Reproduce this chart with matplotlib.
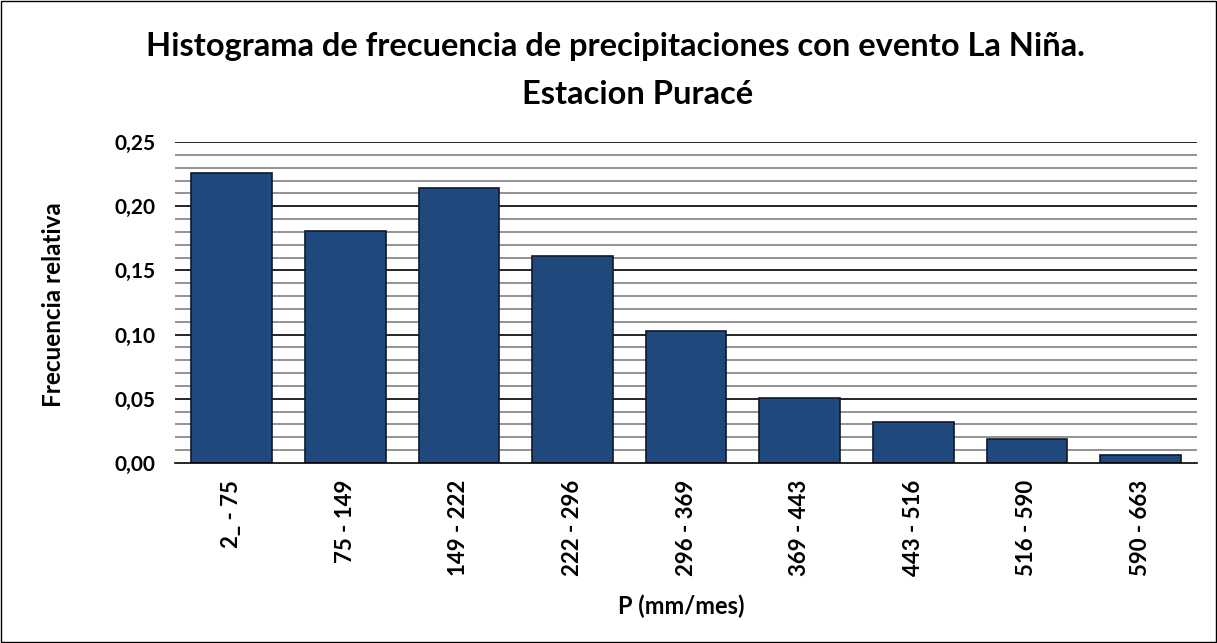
import matplotlib.pyplot as plt
import numpy as np
from matplotlib.patches import Rectangle

plt.rcParams["font.family"] = ["Lato", "DejaVu Sans"]

# datos
intervalos = ["2_ - 75", "75 - 149", "149 - 222", "222 - 296", "296 - 369",
              "369 - 443", "443 - 516", "516 - 590", "590 - 663"]
frecuencia = [0.226, 0.181, 0.214, 0.161, 0.103, 0.051, 0.032, 0.019, 0.006]
marcas_y = [0.00, 0.05, 0.10, 0.15, 0.20, 0.25]

fig = plt.figure(figsize=(12.17, 6.43), dpi=100)
ax = fig.add_axes([0.1438, 0.280, 0.8400, 0.499])

x = np.arange(len(intervalos))
ax.bar(x, frecuencia, width=0.71, color="#1F497D", edgecolor="#0d1a2c",
       linewidth=1.2, zorder=3)

ax.set_xlim(-0.5, len(intervalos) - 0.5)
ax.set_ylim(0, 0.25)

# lineas de division: menores grises cada 0,01 y principales negras cada 0,05
for i in range(1, 26):
    mayor = i % 5 == 0
    ax.axhline(i / 100, color="#000000" if mayor else "#808080",
               linewidth=1.2, zorder=1)

ax.set_yticks(marcas_y)
ax.set_yticklabels([f"{v:.2f}".replace(".", ",") for v in marcas_y],
                   fontsize=15, fontweight="bold")
ax.set_xticks(x)
ax.set_xticklabels(intervalos, rotation=90, fontsize=16, fontweight="bold")
ax.tick_params(axis="y", length=0, pad=14)
ax.tick_params(axis="x", length=0, pad=12)

for lado in ["top", "right", "left"]:
    ax.spines[lado].set_visible(False)
ax.spines["bottom"].set_color("#000000")
ax.spines["bottom"].set_linewidth(1.2)
ax.spines["bottom"].set_zorder(4)

fig.text(0.0436, 0.527, "Frecuencia relativa", rotation=90, ha="center",
         va="center", fontsize=17.5, fontweight="bold")
fig.text(0.5596, 0.0575, "P (mm/mes)", ha="center", va="center",
         fontsize=17, fontweight="bold")

fig.text(0.506, 0.927, "Histograma de frecuencia de precipitaciones con evento La Niña.",
         ha="center", va="center", fontsize=23.5, fontweight="bold")
fig.text(0.524, 0.853, "Estacion Puracé", ha="center", va="center",
         fontsize=23.5, fontweight="bold")

# borde exterior
fig.patches.append(Rectangle((0.001, 0.001), 0.998, 0.998, transform=fig.transFigure,
                             fill=False, edgecolor="#000000", linewidth=1))

fig.savefig("out.png", dpi=100)
